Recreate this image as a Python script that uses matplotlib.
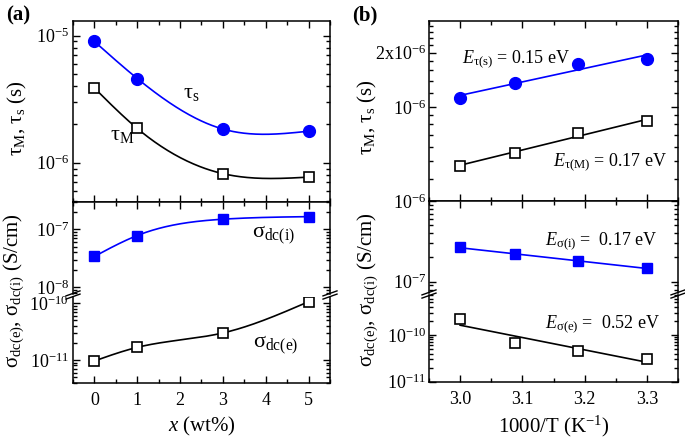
import numpy as np
import matplotlib
matplotlib.use('Agg')
import matplotlib.pyplot as plt
from matplotlib.ticker import FixedLocator, FixedFormatter, MultipleLocator, LogLocator, NullFormatter
from matplotlib.lines import Line2D

plt.rcParams['font.family'] = ['Liberation Serif', 'DejaVu Serif']
plt.rcParams['mathtext.fontset'] = 'custom'
plt.rcParams['mathtext.rm'] = 'Liberation Serif'
plt.rcParams['mathtext.it'] = 'Liberation Serif:italic'
plt.rcParams['mathtext.bf'] = 'Liberation Serif:bold'
plt.rcParams['mathtext.default'] = 'regular'

# (a) vs x (wt%)
x_wt = [0, 1, 3, 5]
tau_s_x = [9.0e-6, 4.6e-6, 1.84e-6, 1.77e-6]
tau_M_x = [3.87e-6, 1.86e-6, 8.2e-7, 7.7e-7]
sig_i_x = [3.4e-8, 7.8e-8, 1.49e-7, 1.65e-7]
sig_e_x = [9.6e-12, 1.67e-11, 3.0e-11, 1.07e-10]

# (b) vs 1000/T
inv_T = [3.0, 3.088, 3.189, 3.3]
tau_s_T = [1.12e-6, 1.36e-6, 1.73e-6, 1.85e-6]
tau_M_T = [4.7e-7, 5.57e-7, 7.16e-7, 8.32e-7]
sig_i_T = [2.67e-7, 2.19e-7, 1.81e-7, 1.47e-7]
sig_e_T = [2.17e-10, 6.64e-11, 4.54e-11, 3.11e-11]

BLUE = '#0000ff'
W, H = 685, 441
TS = 13      # tick label size
LS = 15      # axis label size


def rect(l, t, r, b):
    return [l / W, 1 - b / H, (r - l) / W, (b - t) / H]


def spline(x, y, n=200):
    # natural cubic spline through the points (guide line only)
    x = np.asarray(x, float)
    y = np.asarray(y, float)
    h = np.diff(x)
    m = len(x)
    A = np.zeros((m, m))
    r = np.zeros(m)
    A[0, 0] = A[-1, -1] = 1
    for i in range(1, m - 1):
        A[i, i - 1] = h[i - 1]
        A[i, i] = 2 * (h[i - 1] + h[i])
        A[i, i + 1] = h[i]
        r[i] = 3 * ((y[i + 1] - y[i]) / h[i] - (y[i] - y[i - 1]) / h[i - 1])
    c = np.linalg.solve(A, r)
    b = (y[1:] - y[:-1]) / h - h * (2 * c[:-1] + c[1:]) / 3
    d = (c[1:] - c[:-1]) / (3 * h)
    xs = np.linspace(x[0], x[-1], n)
    i = np.clip(np.searchsorted(x, xs) - 1, 0, m - 2)
    dx = xs - x[i]
    return xs, y[i] + b[i] * dx + c[i] * dx ** 2 + d[i] * dx ** 3


def smooth(ax, x, y, color):
    xs, ly = spline(x, np.log10(y))
    ax.plot(xs, 10 ** ly, color=color, lw=1.2)


def fit(ax, x, y, color):
    p = np.polyfit(x, np.log10(y), 1)
    xs = np.array([x[0], x[-1]])
    ax.plot(xs, 10 ** np.polyval(p, xs), color=color, lw=1.2)


def style(ax, ylim, yticks, ylabels, top=True, bottom=True):
    ax.set_yscale('log')
    ax.set_ylim(*ylim)
    ax.yaxis.set_major_locator(FixedLocator(yticks))
    ax.yaxis.set_major_formatter(FixedFormatter(ylabels))
    ax.yaxis.set_minor_locator(LogLocator(base=10, subs=np.arange(2, 10)))
    ax.yaxis.set_minor_formatter(NullFormatter())
    ax.tick_params(which='both', direction='in', top=top, bottom=bottom,
                   right=True, left=True, labelsize=TS, width=1, pad=3)
    ax.tick_params(which='major', length=5)
    ax.tick_params(which='minor', length=3)
    ax.tick_params(axis='x', pad=7)
    for s in ax.spines.values():
        s.set_linewidth(1.1)
    if not top:
        ax.spines['top'].set_visible(False)
    if not bottom:
        ax.spines['bottom'].set_visible(False)


fig = plt.figure(figsize=(6.85, 4.41), dpi=100)

# ---- panel (a) ----
a1 = fig.add_axes(rect(73, 21, 330, 201.5))
a2 = fig.add_axes(rect(73, 201.5, 330, 293.5))
a3 = fig.add_axes(rect(73, 296.5, 330, 382.5))

smooth(a1, x_wt, tau_s_x, BLUE)
a1.plot(x_wt, tau_s_x, 'o', color=BLUE, ms=8.5)
smooth(a1, x_wt, tau_M_x, 'black')
a1.plot(x_wt, tau_M_x, 's', mfc='white', mec='black', mew=1.2, ms=7)
style(a1, (4.95e-7, 1.305e-5), [1e-6, 1e-5], ['$10^{-6}$', '$10^{-5}$'])

smooth(a2, x_wt, sig_i_x, BLUE)
a2.plot(x_wt, sig_i_x, 's', color=BLUE, ms=7.5)
style(a2, (7.8e-9, 3.01e-7), [1e-8, 1e-7], ['$10^{-8}$', '$10^{-7}$'], bottom=False)

smooth(a3, x_wt, sig_e_x, 'black')
a3.plot(x_wt, sig_e_x, 's', mfc='white', mec='black', mew=1.2, ms=7)
style(a3, (4.0e-12, 1.32e-10), [1e-11, 1e-10], ['$10^{-11}$', '$10^{-10}$'], top=False)

for ax in (a1, a2, a3):
    ax.set_xlim(-0.5, 5.5)
    ax.xaxis.set_major_locator(MultipleLocator(1))
    ax.xaxis.set_minor_locator(MultipleLocator(0.5))
for ax in (a1, a2):
    ax.tick_params(labelbottom=False)
a3.set_xlabel('$\\mathit{x}$ (wt%)', fontsize=LS, labelpad=4)

fig.text(17.5 / W, 1 - 118 / H, '$\\tau_{M}$, $\\tau_{s}$ (s)', rotation=90,
         ha='center', va='center', fontsize=LS)
fig.text(13.5 / W, 1 - 291 / H, '$\\sigma_{dc(e)}$, $\\sigma_{dc(i)}$ (S/cm)', rotation=90,
         ha='center', va='center', fontsize=LS)

fig.text(183 / W, 1 - 98 / H, '$\\tau_{s}$', fontsize=16, va='baseline')
fig.text(110 / W, 1 - 140 / H, '$\\tau_{M}$', fontsize=16, va='baseline')
fig.text(252 / W, 1 - 237 / H, '$\\sigma_{dc(i)}$', fontsize=16, va='baseline')
fig.text(253 / W, 1 - 347 / H, '$\\sigma_{dc(e)}$', fontsize=16, va='baseline')

# ---- panel (b) ----
b1 = fig.add_axes(rect(429, 21, 678, 201))
b2 = fig.add_axes(rect(429, 201, 678, 292.5))
b3 = fig.add_axes(rect(429, 295.5, 678, 381.7))

fit(b1, inv_T, tau_s_T, BLUE)
b1.plot(inv_T, tau_s_T, 'o', color=BLUE, ms=8.5)
fit(b1, inv_T, tau_M_T, 'black')
b1.plot(inv_T, tau_M_T, 's', mfc='white', mec='black', mew=1.2, ms=7)
style(b1, (3.0e-7, 3.0e-6), [1e-6, 2e-6], ['$10^{-6}$', '2x$10^{-6}$'])
b1.yaxis.set_minor_locator(FixedLocator(
    [k * 1e-7 for k in range(3, 10)] + [k * 1e-7 for k in range(12, 30, 2) if k != 20]))

fit(b2, inv_T, sig_i_T, BLUE)
b2.plot(inv_T, sig_i_T, 's', color=BLUE, ms=7.5)
style(b2, (7.35e-8, 1.005e-6), [1e-7, 1e-6], ['$10^{-7}$', '$10^{-6}$'], bottom=False)

fit(b3, inv_T, sig_e_T, 'black')
b3.plot(inv_T, sig_e_T, 's', mfc='white', mec='black', mew=1.2, ms=7)
style(b3, (0.995e-11, 7.0e-10), [1e-11, 1e-10], ['$10^{-11}$', '$10^{-10}$'], top=False)

for ax in (b1, b2, b3):
    ax.set_xlim(2.95, 3.35)
    ax.xaxis.set_major_locator(MultipleLocator(0.1))
    ax.xaxis.set_minor_locator(MultipleLocator(0.05))
    ax.tick_params(axis='y', pad=2)
for ax in (b1, b2):
    ax.tick_params(labelbottom=False)
b3.xaxis.set_major_formatter(FixedFormatter(['', '3.0', '3.1', '3.2', '3.3', '']))
b3.xaxis.set_major_locator(FixedLocator([2.9, 3.0, 3.1, 3.2, 3.3, 3.4]))
b3.set_xlabel('1000/T (K$^{-1}$)', fontsize=LS, labelpad=4)

fig.text(367.5 / W, 1 - 117 / H, '$\\tau_{M}$, $\\tau_{s}$ (s)', rotation=90,
         ha='center', va='center', fontsize=LS)
fig.text(367.5 / W, 1 - 290 / H, '$\\sigma_{dc(e)}$, $\\sigma_{dc(i)}$ (S/cm)', rotation=90,
         ha='center', va='center', fontsize=LS)

fig.text(462 / W, 1 - 63 / H, '$\\mathit{E}_{\\tau(s)}$ = 0.15 eV', fontsize=13, va='baseline')
fig.text(553 / W, 1 - 166 / H, '$\\mathit{E}_{\\tau(M)}$ = 0.17 eV', fontsize=13, va='baseline')
fig.text(545 / W, 1 - 245 / H, '$\\mathit{E}_{\\sigma(i)}$ =  0.17 eV', fontsize=13, va='baseline')
fig.text(545 / W, 1 - 328 / H, '$\\mathit{E}_{\\sigma(e)}$ =  0.52 eV', fontsize=13, va='baseline')

# panel labels
fig.text(6 / W, 1 - 20 / H, '(a)', fontsize=15, fontweight='bold', va='baseline')
fig.text(352 / W, 1 - 20 / H, '(b)', fontsize=15, fontweight='bold', va='baseline')

# axis break marks
for xb, yb in [(73, 295), (330, 295), (429, 294), (678, 294)]:
    for dy in (-1.6, 1.6):
        fig.add_artist(Line2D([(xb - 7) / W, (xb + 7) / W],
                              [1 - (yb + dy + 2.5) / H, 1 - (yb + dy - 2.5) / H],
                              color='black', lw=1.0, transform=fig.transFigure))

fig.savefig('out.png', dpi=100)
